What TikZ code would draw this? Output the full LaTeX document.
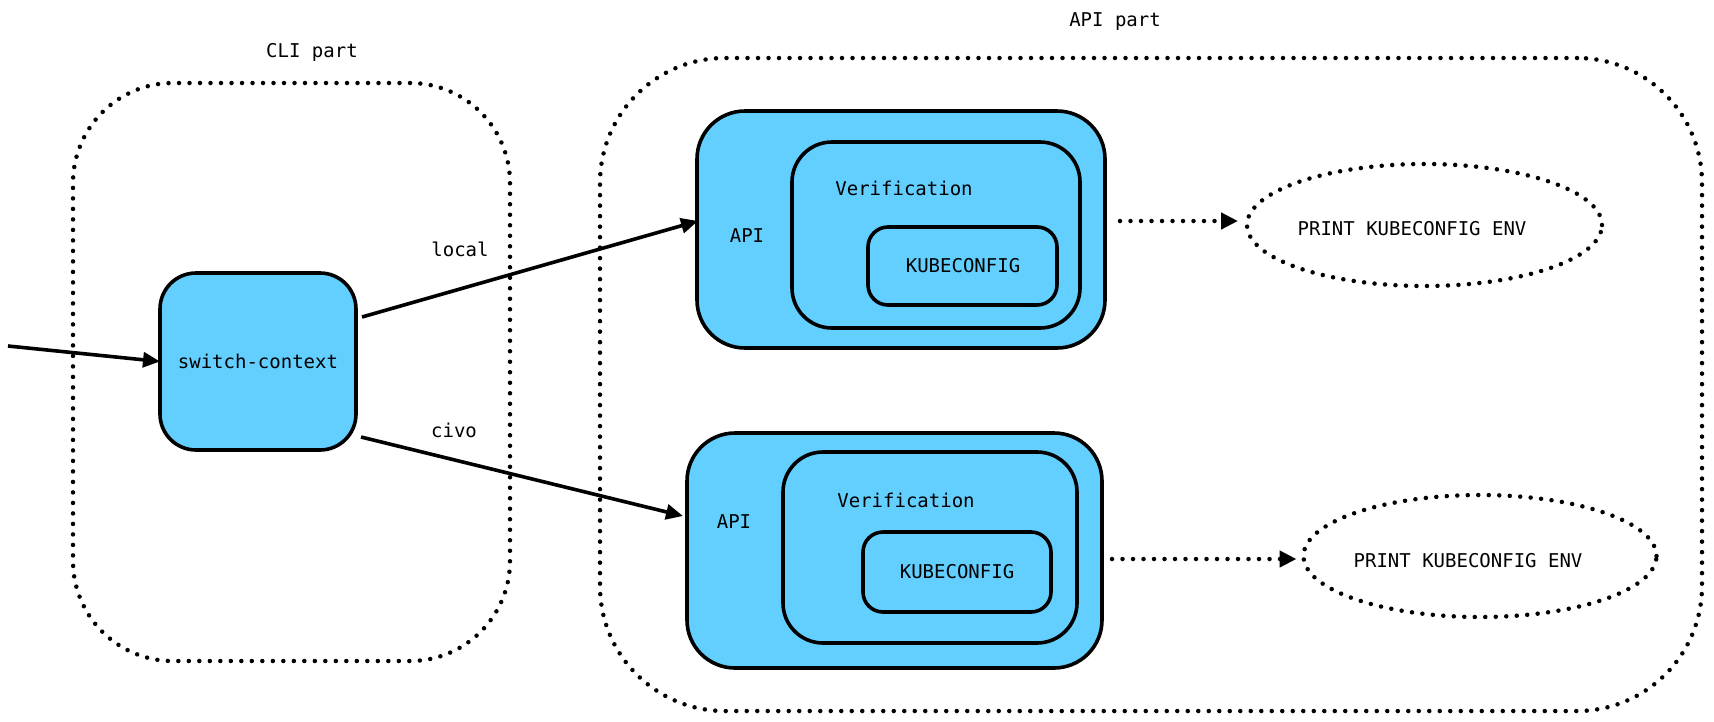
\documentclass[tikz,border=0pt]{standalone}
\usepackage{fontspec}
\newfontfamily\monof{DejaVu Sans Mono}
\usetikzlibrary{arrows.meta,shapes.geometric,calc}
\definecolor{boxblue}{RGB}{99,207,255}
\begin{document}
\begin{tikzpicture}[x=1pt,y=-1pt,
  every node/.style={font=\monof\fontsize{19}{23}\selectfont, inner sep=0pt, outer sep=0pt},
  part/.style={draw, line width=4.5pt, dash pattern=on 0pt off 10.5pt, line cap=round, rounded corners=#1},
  bluebox/.style={draw, fill=boxblue, line width=3.6pt, rounded corners=#1},
  arr/.style={line width=3.6pt, -{Triangle[length=17pt,width=15pt]}},
  darr/.style={line width=4.5pt, dash pattern=on 0pt off 10.5pt, line cap=round, -{Triangle[length=17pt,width=16pt]}},
  oval/.style={ellipse, draw, line width=4.5pt, dash pattern=on 0pt off 10.5pt, line cap=round},
]
\useasboundingbox (0,0) rectangle (1714,721);

% group frames
\node[part=100pt, minimum width=437pt, minimum height=578pt] (cli) at (291.5,372) {};
\node[part=125pt, minimum width=1102pt, minimum height=653pt] (apipart) at (1151,384.5) {};
\node (clilab) at (312,52) {CLI part};
\node (apilab) at (1115,22) {API part};

% switch-context
\node[bluebox=36pt, minimum width=196pt, minimum height=177pt] (sw) at (258,361.5) {switch-context};

% upper API block
\node[bluebox=48pt, minimum width=408pt, minimum height=237pt] (api1) at (901,229.5) {};
\node[bluebox=40pt, minimum width=288pt, minimum height=186pt] (ver1) at (936,235) {};
\node[bluebox=20pt, minimum width=189pt, minimum height=78pt] (kc1) at (962.5,266) {};
\node (api1lab) at (747,236) {API};
\node (ver1lab) at (904,188) {Verification};
\node (kc1lab) at (963,266) {KUBECONFIG};

% lower API block
\node[bluebox=48pt, minimum width=415pt, minimum height=235pt] (api2) at (894.5,550.5) {};
\node[bluebox=40pt, minimum width=294pt, minimum height=191pt] (ver2) at (930,547.5) {};
\node[bluebox=20pt, minimum width=188pt, minimum height=80pt] (kc2) at (957,572) {};
\node (api2lab) at (734,522) {API};
\node (ver2lab) at (906,500) {Verification};
\node (kc2lab) at (957,572) {KUBECONFIG};

% output ellipses
\node[oval, minimum width=355pt, minimum height=122pt] (ell1) at (1424.5,225) {};
\node (ell1lab) at (1412,229) {PRINT KUBECONFIG ENV};
\node[oval, minimum width=353pt, minimum height=122pt] (ell2) at (1480,556) {};
\node (ell2lab) at (1468,561) {PRINT KUBECONFIG ENV};

% connectors
\coordinate (start) at (8,346);
\draw[arr] (start) -- (sw.west);
\draw[arr] ($(sw.east)+(6,-44.5)$) -- ($(api1.west)+(1,-8.5)$);
\draw[arr] ($(sw.east)+(5,75.5)$) -- ($(api2.west)+(-4,-34.5)$);
\node (locallab) at (460,249) {local};
\node (civolab) at (454,430) {civo};

\draw[darr] ($(api1.east)+(15,-8.5)$) -- ($(ell1.west)+(-9,-4)$);
\draw[darr] ($(api2.east)+(10,8.5)$) -- ($(ell2.west)+(-7,3)$);
\end{tikzpicture}
\end{document}
